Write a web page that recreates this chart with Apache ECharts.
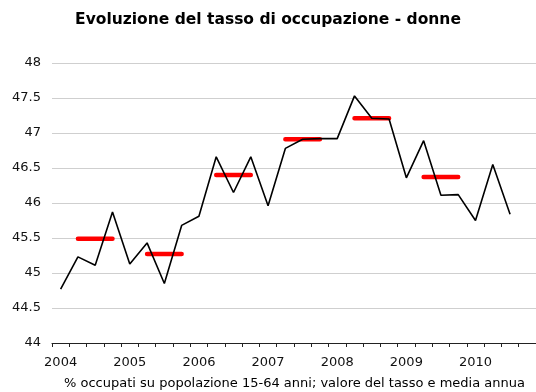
<!DOCTYPE html>
<html>
<head>
<meta charset="utf-8">
<script src="https://cdn.jsdelivr.net/npm/echarts@6/dist/echarts.min.js"></script>
<style>
  html, body { margin: 0; padding: 0; background: #fff; }
  #chart { width: 536px; height: 392px; }
</style>
</head>
<body>
<div id="chart"></div>
<script>
// Quarterly female employment rate (%), 2004 Q1 – 2010 Q4 (last quarter not yet available)
const years = ['2004', '2005', '2006', '2007', '2008', '2009', '2010'];
const quarterly = [
  44.77, 45.23, 45.11, 45.87,
  45.13, 45.43, 44.85, 45.68,
  45.81, 46.66, 46.15, 46.66,
  45.96, 46.78, 46.91, 46.92,
  46.92, 47.53, 47.21, 47.20,
  46.36, 46.89, 46.11, 46.12,
  45.75, 46.55, 45.84, null
];
// Annual mean for each complete year
const annualMean = [45.49, 45.27, 46.40, 46.91, 47.21, 46.37];

const yTicks = { min: 44, max: 48, step: 0.5 };

// One category per quarter; year label on the first quarter only
const categories = [];
years.forEach(y => { categories.push(y, '', '', ''); });

// Annual mean drawn as a segment across Q2–Q4 of its year
const meanSeries = categories.map(() => null);
annualMean.forEach((v, i) => {
  for (let q = 1; q <= 3; q++) meanSeries[i * 4 + q] = v;
});

const FONT = 'DejaVu Sans';
const chart = echarts.init(document.getElementById('chart'), null, { renderer: 'canvas' });
chart.setOption({
  animation: false,
  backgroundColor: '#ffffff',
  textStyle: { fontFamily: FONT },
  title: [
    {
      text: 'Evoluzione del tasso di occupazione - donne',
      left: 'center',
      top: 7,
      textStyle: { fontFamily: FONT, fontSize: 15.5, fontWeight: 'bold', color: '#000' }
    },
    {
      text: '% occupati su popolazione 15-64 anni; valore del tasso e media annua',
      left: 59,
      top: 372,
      textStyle: { fontFamily: FONT, fontSize: 13, fontWeight: 'normal', color: '#000' }
    }
  ],
  grid: { left: 52, right: 0, top: 63, bottom: 49, containLabel: false },
  xAxis: {
    type: 'category',
    data: categories,
    boundaryGap: true,
    axisLine: { lineStyle: { color: '#222', width: 1 } },
    axisTick: { show: true, interval: 0, length: 4, alignWithLabel: false, lineStyle: { color: '#222' } },
    axisLabel: {
      interval: 0,
      formatter: v => v,
      color: '#111',
      fontSize: 13,
      fontFamily: FONT,
      margin: 13
    },
    splitLine: { show: false }
  },
  yAxis: {
    type: 'value',
    min: yTicks.min,
    max: yTicks.max,
    interval: yTicks.step,
    axisLine: { show: false },
    axisTick: { show: false },
    axisLabel: { color: '#111', fontSize: 13, fontFamily: FONT, margin: 11 },
    splitLine: { lineStyle: { color: '#cfcfcf', width: 1 } }
  },
  series: [
    {
      name: 'Tasso trimestrale',
      type: 'line',
      data: quarterly,
      symbol: 'none',
      connectNulls: false,
      lineStyle: { color: '#000', width: 1.6 },
      z: 3
    },
    {
      name: 'Media annua',
      type: 'line',
      data: meanSeries,
      symbol: 'none',
      connectNulls: false,
      lineStyle: { color: '#ff0000', width: 4.5, cap: 'round' },
      z: 2
    }
  ]
});
</script>
</body>
</html>
